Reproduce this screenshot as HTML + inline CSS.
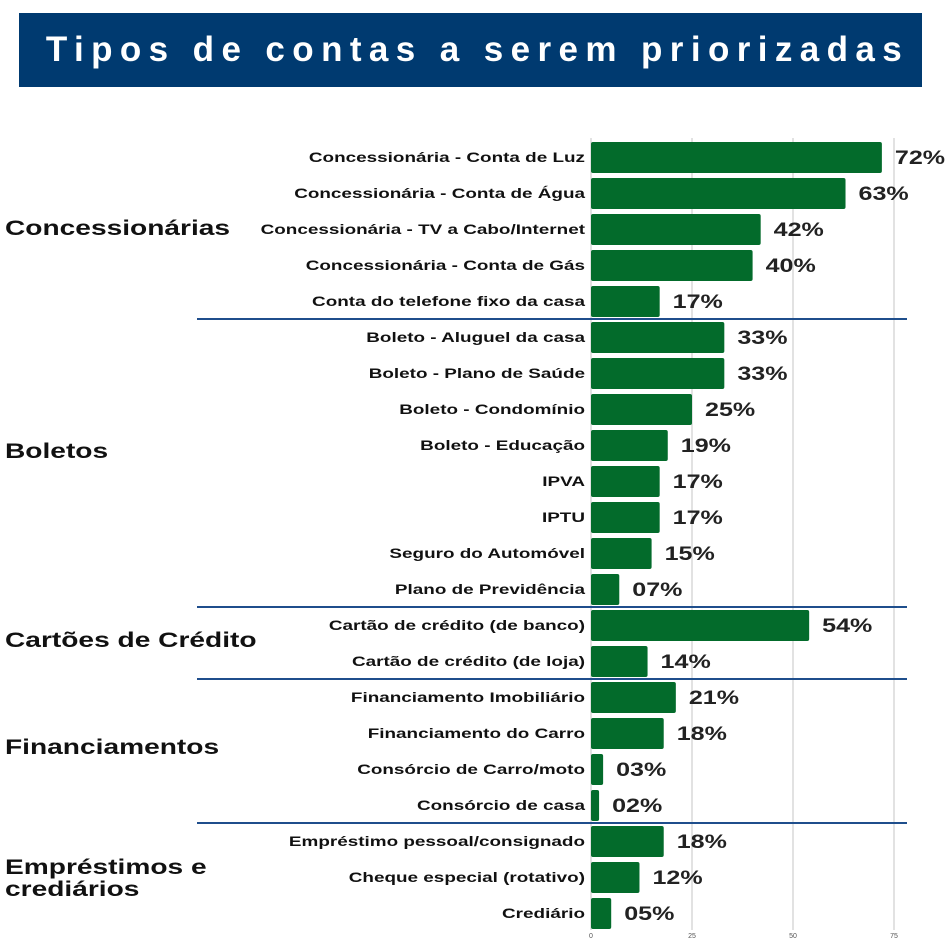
<!DOCTYPE html>
<html><head><meta charset="utf-8"><style>
body{margin:0;background:#fff;width:945px;height:945px;overflow:hidden;font-family:"Liberation Sans",sans-serif}
#title{position:absolute;left:19px;top:13px;width:903px;height:74px;background:#003a70;color:#fff;font-size:35px;font-weight:bold;letter-spacing:7.4px;text-align:center;line-height:74px;text-indent:14px}
</style></head><body>
<div id="title">Tipos de contas a serem priorizadas</div>
<svg id="chart" width="945" height="945" style="position:absolute;left:0;top:0"></svg>
<script>
const categories=["Concessionária - Conta de Luz","Concessionária - Conta de Água","Concessionária - TV a Cabo/Internet","Concessionária - Conta de Gás","Conta do telefone fixo da casa","Boleto - Aluguel da casa","Boleto - Plano de Saúde","Boleto - Condomínio","Boleto - Educação","IPVA","IPTU","Seguro do Automóvel","Plano de Previdência","Cartão de crédito (de banco)","Cartão de crédito (de loja)","Financiamento Imobiliário","Financiamento do Carro","Consórcio de Carro/moto","Consórcio de casa","Empréstimo pessoal/consignado","Cheque especial (rotativo)","Crediário"];
const values=[72,63,42,40,17,33,33,25,19,17,17,15,7,54,14,21,18,3,2,18,12,5];
const valueLabels=["72%","63%","42%","40%","17%","33%","33%","25%","19%","17%","17%","15%","07%","54%","14%","21%","18%","03%","02%","18%","12%","05%"];
const ticks=[0,25,50,75];
const groups=["Concessionárias","Boletos","Cartões de Crédito","Financiamentos","Empréstimos e|crediários"];
const groupStarts=[0,5,13,15,19];
const groupShift=[-2,-13,-4,-5,0];
const NS="http://www.w3.org/2000/svg";
const svg=document.getElementById('chart');
const x0=591,pxPer=4.04;
const xs=v=>x0+v*pxPer;
const rowTop=139,rowH=36;
const yc=i=>rowTop+rowH*i+rowH/2;
function mk(t,a){const e=document.createElementNS(NS,t);for(const k in a)e.setAttribute(k,a[k]);svg.appendChild(e);return e;}
ticks.forEach(t=>{
 const g=mk('line',{x1:xs(t),x2:xs(t),y1:138,y2:930,stroke:'#e2e2e2','stroke-width':2});
 
 
 const tl=mk('text',{x:xs(t),y:938,'font-size':7,'text-anchor':'middle',fill:'#555','font-family':'Liberation Sans'});
 tl.textContent=t;
 
 
});
categories.forEach((c,i)=>{
 const y=yc(i);
 const r=mk('rect',{x:x0,y:y-15,width:Math.max(values[i]*pxPer,1),height:31,fill:'#036b2b',rx:2});
 
 
 const l=mk('text',{x:0,y:0,'font-size':14,'font-weight':'bold','text-anchor':'end',fill:'#111','font-family':'Liberation Sans',transform:`translate(585 ${y+5}) scale(1.35 1)`});
 l.textContent=c;
 
 
 const v=mk('text',{x:0,y:0,'font-size':19,'font-weight':'bold',fill:'#222','font-family':'Liberation Sans',transform:`translate(${xs(values[i])+13} ${y+7}) scale(1.32 1)`});
 v.textContent=valueLabels[i];
 
 
});
groupStarts.forEach((s,gi)=>{
 if(gi>0){const ly=rowTop+rowH*s;
  const ln=mk('line',{x1:197,x2:907,y1:ly,y2:ly,stroke:'#1f4e8c','stroke-width':2});
  
  }
 const e=gi<groupStarts.length-1?groupStarts[gi+1]:categories.length;
 const mid=(yc(s)+yc(e-1))/2+groupShift[gi];
 const parts=groups[gi].split('|');
 parts.forEach((p,k)=>{
  const t=mk('text',{x:0,y:0,'font-size':21,'font-weight':'bold',fill:'#111','font-family':'Liberation Sans',transform:`translate(5 ${mid+8+(k-(parts.length-1)/2)*22}) scale(1.34 1)`});
  t.textContent=p;
  
  
 });
});
</script>
</body></html>
